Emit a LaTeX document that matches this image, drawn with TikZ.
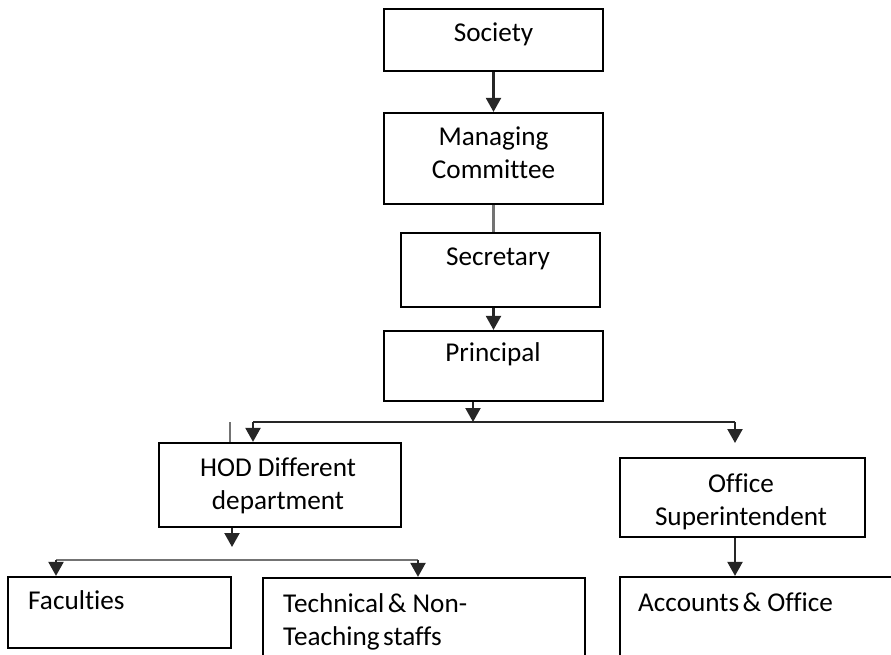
\documentclass[tikz,border=0pt]{standalone}
\usepackage{fontspec}
\setmainfont{Carlito}[Ligatures=NoCommon]
\usetikzlibrary{arrows.meta}
\begin{document}
\begin{tikzpicture}[x=1pt,y=-1pt,
  box/.style={draw=black, line width=2.2pt, rectangle, inner sep=0pt},
  lbl/.style={anchor=base, inner sep=0pt, font=\fontsize{27.2}{33}\selectfont},
  lbll/.style={anchor=base west, inner sep=0pt, font=\fontsize{27.2}{33}\selectfont},
  conn/.style={draw=black!85, line width=2.2pt},
  arr/.style={conn, -{Triangle[width=15pt,length=14pt]}},
  grayconn/.style={draw=black!55, line width=2.2pt}]
\useasboundingbox (0,0) rectangle (891,655);
\clip (0,0) rectangle (891,655);
% boxes
\node[box, minimum width=219pt, minimum height=62pt] (society) at (493.5,40) {};
\node[box, minimum width=219pt, minimum height=91pt] (mc) at (493.5,158.5) {};
\node[box, minimum width=199pt, minimum height=74pt] (sec) at (500.5,270) {};
\node[box, minimum width=219pt, minimum height=70pt] (prin) at (493.5,366) {};
\node[box, minimum width=242pt, minimum height=84pt] (hod) at (280,485) {};
\node[box, minimum width=245pt, minimum height=79pt] (office) at (742.5,497.5) {};
\node[box, minimum width=223pt, minimum height=71pt] (fac) at (119.5,612.5) {};
\node[box, minimum width=322pt, minimum height=100pt] (tech) at (424,628) {};
\node[box, minimum width=300pt, minimum height=100pt] (acc) at (770,627) {};
% texts
\node[lbl] (tsociety) at (493.5,42) {Society};
\node[lbl] (tmc1) at (493.5,146) {Managing};
\node[lbl] (tmc2) at (493.5,179) {Committee};
\node[lbl] (tsec) at (498,265) {Secretary};
\node[lbl] (tprin) at (493,361) {Principal};
\node[lbl] (thod1) at (278,476) {HOD Different};
\node[lbl] (thod2) at (278,509) {department};
\node[lbl] (toff1) at (741,492) {Office};
\node[lbl] (toff2) at (741,525) {Superintendent};
\node[lbll] (tfac) at (28,609) {Faculties};
\node[lbll] (ttech1) at (283,612) {Technical\hspace{3.5pt}\& Non-};
\node[lbll] (ttech2) at (283,645) {Teaching\hspace{3.5pt}staffs};
\node[lbll] (tacc) at (638,611) {Accounts\hspace{3.5pt}\& Office};
% coordinates
\coordinate (pbr) at (473,422);
\coordinate (hl) at (253,422);
\coordinate (hr) at (735,422);
\coordinate (otip) at (735,443);
\coordinate (stub) at (230,422);
\coordinate (htip) at (232,547);
\coordinate (bl) at (56,560);
\coordinate (br) at (418,560);
% connectors
\draw[arr] (society.south) -- (mc.north);
\draw[grayconn] (mc.south) -- (mc.south |- sec.north);
\draw[arr] (sec.south -| prin.north) -- (prin.north);
\draw[arr] (prin.south -| pbr) -- (pbr);
\draw[conn] (hl) -- (hr);
\draw[arr] (hl) -- (hl |- hod.north);
\draw[arr] (hr) -- (otip);
\draw[grayconn] (stub) -- (stub |- hod.north);
\draw[arr] (hod.south -| htip) -- (htip);
\draw[grayconn] (bl) -- (br);
\draw[arr] (bl) -- (bl |- fac.north);
\draw[arr] (br) -- (br |- tech.north);
\draw[arr] (office.south -| hr) -- (acc.north -| hr);
\end{tikzpicture}
\end{document}
